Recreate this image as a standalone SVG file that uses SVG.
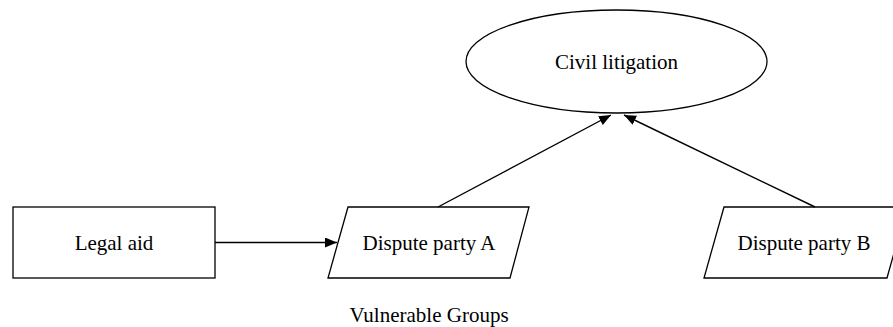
<svg xmlns="http://www.w3.org/2000/svg" width="893" height="327" viewBox="0 0 893 327">
<style>
.shape{fill:#fff;stroke:#000;stroke-width:1.3}
.lbl{font-family:"Liberation Serif","Times New Roman",serif;font-size:21px;fill:#000;text-anchor:middle}
.edge{fill:none;stroke:#000;stroke-width:1.4}
</style>
<defs>
<marker id="arr" viewBox="0 0 12 10" refX="12" refY="5" markerWidth="12" markerHeight="10" markerUnits="userSpaceOnUse" orient="auto">
<path d="M0,0 L12,5 L0,10 Z" fill="#000"/>
</marker>
</defs>
<rect width="893" height="327" fill="#fff"/>
<g id="civil-litigation">
<ellipse class="shape" cx="616.5" cy="61.5" rx="150.5" ry="51.5"/>
<text class="lbl" x="616.5" y="68.5">Civil litigation</text>
</g>
<g id="legal-aid">
<rect class="shape" x="13" y="207" width="202" height="71"/>
<text class="lbl" x="114" y="249.5">Legal aid</text>
</g>
<g id="dispute-party-a">
<polygon class="shape" points="348,207 529,207 510,278 328,278"/>
<text class="lbl" x="429" y="249.5">Dispute party A</text>
</g>
<g id="dispute-party-b">
<polygon class="shape" points="724,207 907,207 887,278 704,278"/>
<text class="lbl" x="804" y="249.5">Dispute party B</text>
</g>
<g id="vulnerable-groups">
<text class="lbl" x="429" y="322">Vulnerable Groups</text>
</g>
<g id="connectors">
<line class="edge" x1="215" y1="242.5" x2="337" y2="242.5" marker-end="url(#arr)"/>
<line class="edge" x1="438" y1="207" x2="611" y2="115" marker-end="url(#arr)"/>
<line class="edge" x1="815" y1="207" x2="624" y2="115" marker-end="url(#arr)"/>
</g>
</svg>
